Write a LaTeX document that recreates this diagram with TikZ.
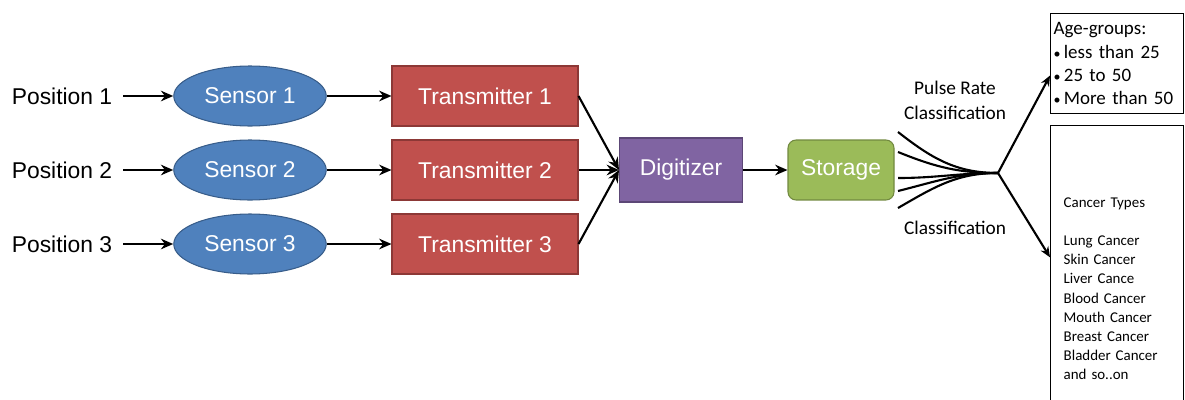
\documentclass[tikz,border=0pt]{standalone}
\usepackage{fontspec}
\usepackage{xcolor}
\setmainfont{Liberation Sans}
\newfontfamily\carlito{Carlito}
\usetikzlibrary{shapes.geometric, arrows.meta}

\definecolor{sensorblue}{HTML}{4F81BD}
\definecolor{sensorline}{HTML}{385D8A}
\definecolor{txred}{HTML}{C0504D}
\definecolor{txline}{HTML}{8C3836}
\definecolor{digipurple}{HTML}{8064A2}
\definecolor{digiline}{HTML}{5C4776}
\definecolor{storegreen}{HTML}{9BBB59}
\definecolor{storeline}{HTML}{71893F}

\begin{document}
\begin{tikzpicture}[
        x = 0.02cm, y = -0.02cm, % one unit per pixel, y running down
        > = {Stealth[length=7pt, width=6pt]}, % arrow head style
        line width = 1.2pt, % connector width
        plain/.style = {inner xsep=0.2cm, font=\fontsize{13}{15}\selectfont},
        sensor/.style = {ellipse, draw=sensorline, fill=sensorblue, line width=0.6pt,
            minimum width=3.05cm, minimum height=1.2cm, inner sep=0pt,
            text=white, font=\fontsize{13}{15}\selectfont},
        block/.style = {rectangle, line width=0.6pt, minimum height=1.2cm,
            inner sep=0pt, text=white, font=\fontsize{13}{15}\selectfont},
        caption/.style = {align=center, font=\carlito\fontsize{11}{14.2}\selectfont},
        infobox/.style = {rectangle, draw, line width=0.8pt, align=left,
            anchor=north west},
    ]
        \clip (0,0) rectangle (1185,399);

        % Draw the input chains
        \foreach \i/\y in {1/96, 2/170, 3/244} {
            \node[plain] (pos\i) at (62,\y) {Position \i};
            \node[sensor] (sen\i) at (250,\y) {Sensor \i};
            \node[block, fill=txred, draw=txline, minimum width=3.72cm] (tx\i) at (485,\y) {Transmitter \i};
            \draw[->] (pos\i) -- (sen\i);
            \draw[->] (sen\i) -- (tx\i);
        }

        % Draw the processing stages
        \node[block, fill=digipurple, draw=digiline, minimum width=2.46cm, minimum height=1.28cm] (dig) at (681,170) {Digitizer};
        \node[block, fill=storegreen, draw=storeline, minimum width=2.12cm, rounded corners=0.16cm] (store) at (841,170) {Storage};
        \foreach \i in {1,2,3} {
            \draw[->] (tx\i.east) -- (dig.west);
        }
        \draw[->] (dig) -- (store);

        % Fan of outputs into the classifier
        \coordinate (hub) at (998,173);
        \foreach \i/\y/\a in {1/132/-38, 2/152/-22, 3/178/0, 4/191/14, 5/208/30} {
            \coordinate (f\i) at (898,\y);
            \draw (f\i) to[out=\a, in=180] (hub);
        }
        \node[caption] (pulse) at (955,100) {Pulse Rate\\Classification};
        \node[caption] (cls) at (955,228) {Classification};

        % Draw the result boxes
        \node[infobox, text width=2.54cm, inner xsep=0.06cm, minimum height=2cm,
            font=\carlito\fontsize{10.8}{13.3}\selectfont] (age) at (1050,13)
            {Age-groups:\\{\footnotesize\textbullet}\,less than 25\\{\footnotesize\textbullet}\,25 to 50\\{\footnotesize\textbullet}\,More than 50};
        \node[infobox, text width=2.14cm, inner xsep=0.26cm, minimum height=6.52cm,
            font=\carlito\fontsize{8.5}{10.9}\selectfont] (cancer) at (1050,125)
            {Cancer Types\\[10.9pt]Lung Cancer\\Skin Cancer\\Liver Cance\\Blood Cancer\\Mouth Cancer\\Breast Cancer\\Bladder Cancer\\and so..on};
        \draw[-{Stealth[length=6pt, width=5pt]}] (hub) -- (age.190);
        \draw[-{Stealth[length=6pt, width=5pt]}] (hub) -- (cancer.155);
    \end{tikzpicture}
\end{document}
